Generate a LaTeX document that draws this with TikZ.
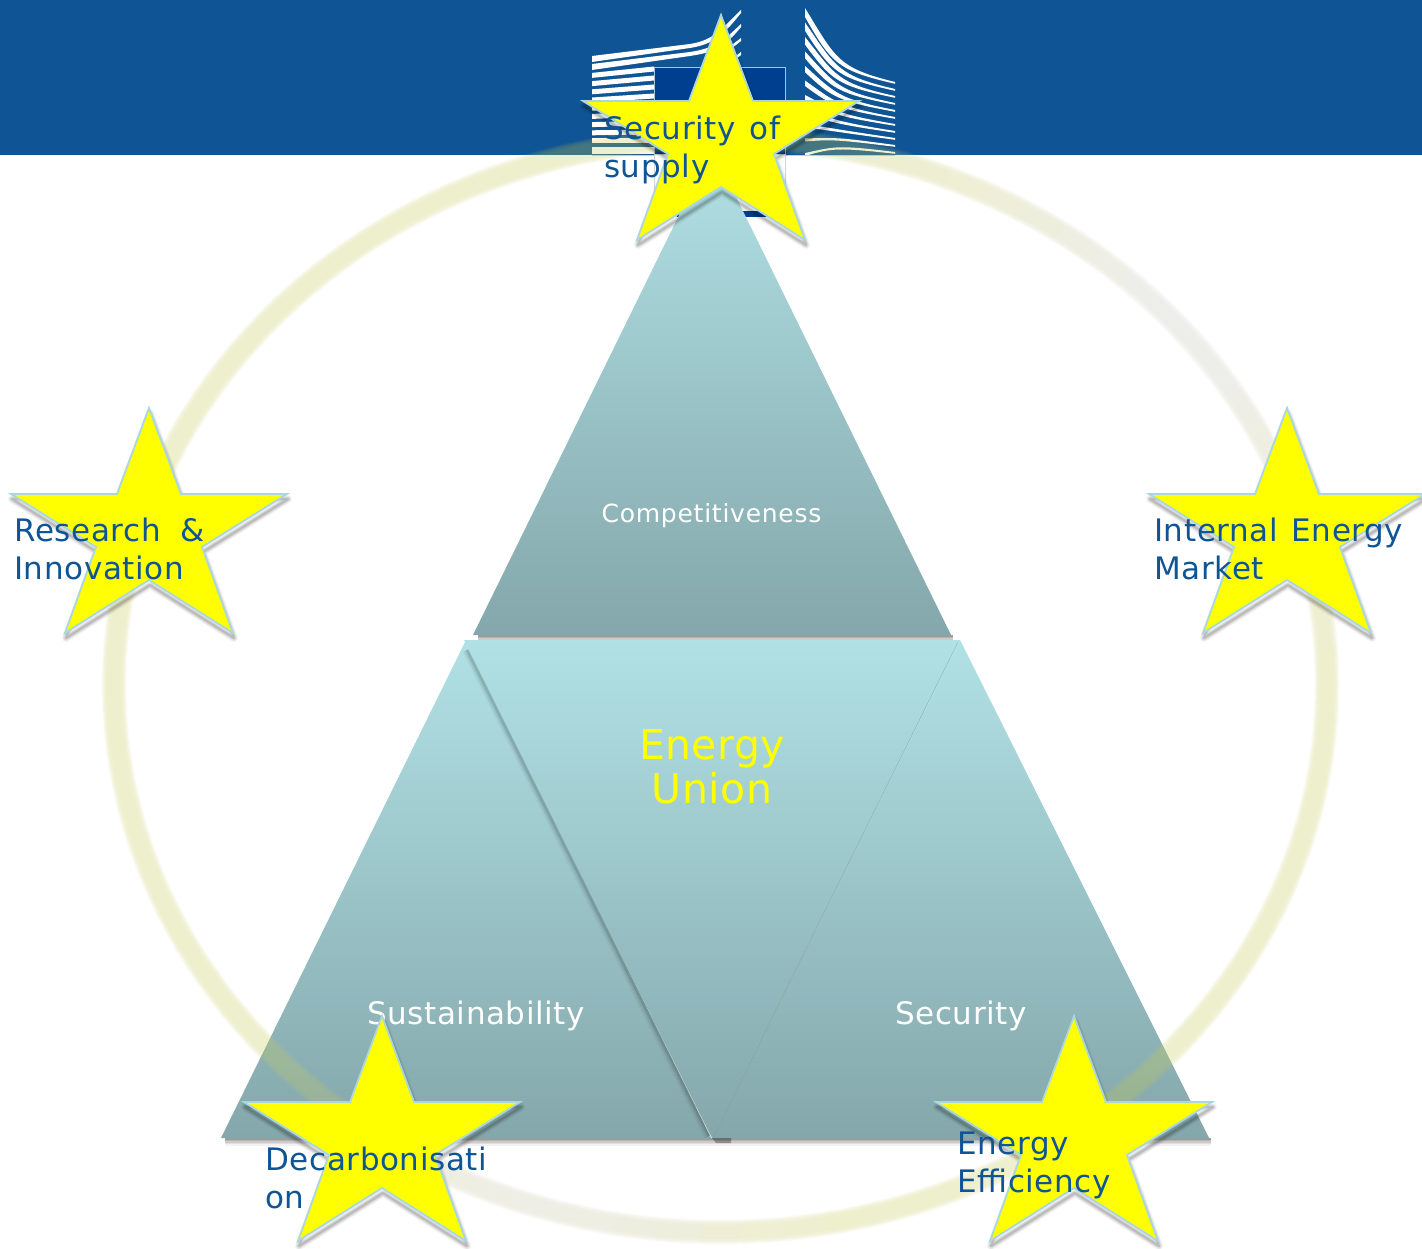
\documentclass[tikz,border=0pt]{standalone}
\usepackage{fontspec}
\setmainfont{DejaVu Sans}
\newfontfamily\labelfont[LetterSpace=2,WordSpace=1.3]{DejaVu Sans}
\definecolor{headerblue}{RGB}{15,84,148}
\definecolor{boxblue}{RGB}{0,63,143}
\definecolor{hairline}{RGB}{170,195,215}
\definecolor{trilight}{RGB}{177,225,229}
\definecolor{trimid}{RGB}{163,207,211}
\definecolor{tridark}{RGB}{132,167,171}
\definecolor{starline}{RGB}{170,214,222}
\definecolor{staryellow}{RGB}{255,255,0}
\definecolor{ringyellow}{RGB}{205,208,85}
\definecolor{ringgray}{RGB}{200,200,190}
\newcommand{\softshadow}[2]{%
  \foreach \sw/\so in {15/.05,12/.07,9/.09,6/.11,3/.13}{
    \path[shift={#1},draw=black,line width=\sw,line cap=butt,draw opacity=\so] #2;
  }}
\newcommand{\ringlayer}[2]{%
  \begin{scope}[transparency group,opacity=#2]
    \foreach \ta in {0,4,...,356}{
      \pgfmathtruncatemacro{\mixp}{100*max(exp(-((\ta-38)/24)^2),0.85*exp(-((\ta-250)/20)^2))}
      \pgfmathsetmacro{\tb}{\ta+4.6}
      \draw[color=ringgray!\mixp!ringyellow,line width=#1,line cap=butt]
        plot[domain=\ta:\tb,samples=4,smooth] ({720.5+606.5*cos(\x)},{685-547*sin(\x)});
    }
  \end{scope}}
\tikzset{
  x=1pt,y=-1pt,
  wing/.style={fill=white,draw=none},
  bluetext/.style={text=headerblue,anchor=base west,align=left,inner sep=0pt,
    font=\labelfont\fontsize{31}{38}\selectfont},
  whitetext/.style={text=white,anchor=base,inner sep=0pt},
  triangle shade/.style={top color=trilight,middle color=trimid,bottom color=tridark,draw=none},
  ustar/.pic={
    \def\starpath{(0,1) -- (32,87) -- (138,87) -- (53,140) -- (84,226) -- (0,173) -- (-84,226) -- (-53,140) -- (-138,87) -- (-32,87) -- cycle}
    \foreach \sw/\so in {8/.04,6/.06,4/.08,2/.11}{
      \path[shift={(1,5)},draw=black,line width=\sw,line join=round,draw opacity=\so] \starpath;
    }
    \path[fill=staryellow,draw=starline,line width=1.8pt,line join=miter] \starpath;
  }
}
\begin{document}
\begin{tikzpicture}
\useasboundingbox (0,0) rectangle (1422,1249);
\fill[white] (0,0) rectangle (1422,1249);
% header
\fill[headerblue] (0,0) rectangle (1422,155);
% logo: left wing
\foreach \i in {2,3,...,11}{
  \pgfmathsetmacro{\yy}{59+8.2*\i}
  \pgfmathsetmacro{\tilt}{max(8-0.8*\i,0)}
  \fill[wing] (592,\yy-2.5) -- (654,\yy-2.5-\tilt) -- (654,\yy+2.5-\tilt) -- (592,\yy+2.5) -- cycle;
}
\foreach \i in {0,1}{
  \pgfmathsetmacro{\yy}{59+8*\i}
  \pgfmathsetmacro{\ye}{10+14*\i}
  \pgfmathsetmacro{\ym}{43+8*\i}
  \fill[wing] (592,\yy-3) -- (690,\ym+1) .. controls (715,\ym-3) and (722,\ye+18) .. (741,\ye)
     -- (741,\ye+3) .. controls (724,\ye+24) and (715,\ym+1) .. (690,\ym+5) -- (592,\yy+3) -- cycle;
}
\foreach \ye in {38,52}{
  \fill[wing] (725,\ye+12) -- (741,\ye) -- (741,\ye+3) -- (727,\ye+14) -- cycle;
}
% logo: right wing
\foreach \i in {0,1,...,10}{
  \pgfmathsetmacro{\ya}{8+14.5*\i}
  \pgfmathsetmacro{\yb}{82+7*\i}
  \pgfmathsetmacro{\yc}{\yb-14+0.7*\i}
  \pgfmathsetmacro{\ca}{\ya+0.85*(\yc-\ya)}
  \pgfmathsetmacro{\th}{max(9-0.7*\i,3)}
  \fill[wing] (805,\ya) .. controls (836,\ca) and (838,\yc) .. (895,\yb)
     -- (895,\yb+1.8) .. controls (838,\yc+2.5) and (832,\ca+\th*.6) .. (805,\ya+\th) -- cycle;
}
\draw[color=gray!40,line width=.8pt] (592,155) -- (895,155);
\fill[wing] (592,149) rectangle (654,154.5);
% logo: centre box
\path[fill=boxblue,draw=hairline,line width=1pt] (654,68) rectangle (785,155);
\path[fill=white,draw=gray!35,line width=1pt] (654,155) rectangle (785,217);
\fill[boxblue] (677,211) rectangle (770,217);
% shadows under the triangle bases, clipped to fall below each base
\begin{scope}
  \clip (0,1138) rectangle (1422,1249);
  \softshadow{(2,0)}{(223,1138) -- (1209,1138)}
\end{scope}
\begin{scope}
  \clip (0,635) rectangle (1422,660);
  \softshadow{(2,0)}{(476,635) -- (951,635)}
\end{scope}
% triangles
\path[triangle shade] (221,1138) -- (711,1138) -- (466,640) -- cycle;
\path[triangle shade] (712,1138) -- (1209,1138) -- (960,640) -- cycle;
\foreach \sw/\so in {10/.03,7/.05,4/.06,2/.08}{
  \draw[black,line width=\sw,draw opacity=\so,line cap=butt] (467,650) -- (709,1136);
}
\path[triangle shade] (464,640) -- (960,640) -- (712,1138) -- cycle;
\draw[color=tridark!80!black,line width=.5pt,draw opacity=.4] (958,642) -- (713,1137);
\path[top color=trilight,middle color=trimid!85!tridark,bottom color=tridark,draw=none] (712,148) -- (951,635) -- (473,635) -- cycle;
\fill[black,opacity=.3] (712,1138) -- (731,1138) -- (731,1143) -- (716,1143) -- cycle;
% labels inside the triangles
\node[whitetext,font=\fontsize{25}{30}\selectfont\addfontfeature{LetterSpace=3}] (comp) at (711.5,522) {Competitiveness};
\node[whitetext,font=\fontsize{31}{38}\selectfont\addfontfeature{LetterSpace=1.8}] (sust) at (476,1024) {Sustainability};
\node[whitetext,font=\fontsize{31}{38}\selectfont\addfontfeature{LetterSpace=1.8}] (secu) at (961,1024) {Security};
\node[text=staryellow,anchor=base,align=center,inner sep=0pt,font=\fontsize{41}{44}\selectfont\addfontfeature{LetterSpace=1}] (union) at (712,803) {Energy\\Union};
% ring
\ringlayer{25}{.05}
\ringlayer{23}{.07}
\ringlayer{21}{.08}
\ringlayer{18}{.08}
\ringlayer{14}{.05}
% stars
\pic at (721,14) {ustar};
\pic at (149,407) {ustar};
\pic at (1287,407) {ustar};
\pic at (382,1015) {ustar};
\pic at (1074,1015) {ustar};
% star labels
\node[bluetext] (ssupply) at (604,178) {Security of\\supply};
\node[bluetext] (resinn) at (14,579) {Research\ \ \kern-7pt\&\\Innovation};
\node[bluetext] (intmkt) at (1154,579) {Internal Energy\\Market};
\node[bluetext] (decarb) at (265,1208) {Decarbonisati\\on};
\node[bluetext] (enceff) at (957,1192) {Energy\\Efficiency};
\end{tikzpicture}
\end{document}
